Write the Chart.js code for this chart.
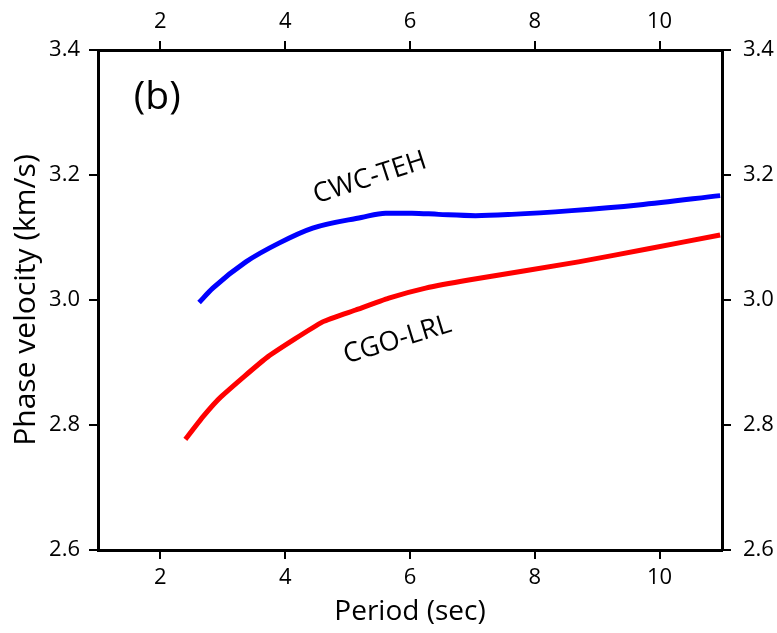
<!DOCTYPE html>
<html>
<head>
<meta charset="utf-8">
<script src="https://cdn.jsdelivr.net/npm/chart.js@4.4.0/dist/chart.umd.min.js"></script>
<style>
  html, body { margin: 0; padding: 0; background: #fff; }
  #wrap { width: 777px; height: 633px; }
</style>
</head>
<body>
<div id="wrap"><canvas id="chart" width="777" height="633"></canvas></div>
<script>
// dispersion curves: period (s) vs phase velocity (km/s)
const cwcPeriod = [2.62, 2.84, 3.37, 3.90, 4.44, 5.22, 5.61, 6.03, 6.46, 7.05, 7.63, 8.59, 9.66, 10.97];
const cwcVel    = [2.996, 3.019, 3.061, 3.091, 3.115, 3.132, 3.139, 3.139, 3.137, 3.135, 3.137, 3.143, 3.152, 3.167];

const cgoPeriod = [2.40, 2.68, 2.97, 3.72, 4.60, 5.13, 5.66, 6.25, 6.94, 8.70, 9.82, 10.97];
const cgoVel    = [2.777, 2.813, 2.845, 2.909, 2.965, 2.984, 3.003, 3.019, 3.032, 3.061, 3.082, 3.104];

const xTicks = [2, 4, 6, 8, 10];
const yTicks = [2.6, 2.8, 3.0, 3.2, 3.4];

// text labels placed in data coordinates
const notes = [
  { text: '(b)', x: 1.95, y: 3.323, size: 39, angle: 0 },
  { text: 'CWC-TEH', x: 5.36, y: 3.195, size: 27, angle: -18 },
  { text: 'CGO-LRL', x: 5.80, y: 2.936, size: 27, angle: -17 }
];

const FONT = '"Open Sans", "Noto Sans", sans-serif';

const toPts = (xs, ys) => xs.map((x, i) => ({ x, y: ys[i] }));

const notePlugin = {
  id: 'notes',
  afterDatasetsDraw(chart) {
    const { ctx, scales } = chart;
    ctx.save();
    ctx.fillStyle = '#000';
    ctx.textAlign = 'center';
    ctx.textBaseline = 'middle';
    notes.forEach(n => {
      const px = scales.x.getPixelForValue(n.x);
      const py = scales.y.getPixelForValue(n.y);
      ctx.save();
      ctx.translate(px, py);
      ctx.rotate(n.angle * Math.PI / 180);
      ctx.font = n.size + 'px ' + FONT;
      ctx.fillText(n.text, 0, 0);
      ctx.restore();
    });
    ctx.restore();
  }
};

function axis(position, extra) {
  const horiz = position === 'top' || position === 'bottom';
  return Object.assign({
    type: 'linear',
    position,
    min: horiz ? 1 : 2.6,
    max: horiz ? 11 : 3.4,
    afterBuildTicks: s => { s.ticks = (horiz ? xTicks : yTicks).map(v => ({ value: v })); },
    grid: { drawOnChartArea: false, drawTicks: true, tickLength: 9, color: '#000', lineWidth: 2 },
    border: { display: true, color: '#000', width: 3 },
    ticks: {
      color: '#000',
      font: { family: FONT, size: 22 },
      padding: horiz ? 6 : 9,
      maxRotation: 0,
      callback: v => horiz ? String(v) : v.toFixed(1)
    }
  }, extra);
}

new Chart(document.getElementById('chart'), {
  type: 'line',
  data: {
    datasets: [
      {
        label: 'CWC-TEH',
        data: toPts(cwcPeriod, cwcVel),
        borderColor: '#0000ff',
        borderWidth: 5,
        pointRadius: 0,
        cubicInterpolationMode: 'monotone',
        xAxisID: 'x', yAxisID: 'y'
      },
      {
        label: 'CGO-LRL',
        data: toPts(cgoPeriod, cgoVel),
        borderColor: '#ff0000',
        borderWidth: 5,
        pointRadius: 0,
        tension: 0.15,
        xAxisID: 'x', yAxisID: 'y'
      }
    ]
  },
  options: {
    responsive: false,
    animation: false,
    layout: { padding: 0 },
    plugins: { legend: { display: false }, tooltip: { enabled: false } },
    scales: {
      x: axis('bottom', {
        title: { display: true, text: 'Period (sec)', color: '#000', font: { family: FONT, size: 28 }, padding: { top: 0, bottom: 4 } },
        afterFit: s => { s.height = 83; }
      }),
      x2: axis('top', { afterFit: s => { s.height = 50; } }),
      y: axis('left', {
        title: { display: true, text: 'Phase velocity (km/s)', color: '#000', font: { family: FONT, size: 30 }, padding: { top: 8, bottom: 0 } },
        afterFit: s => { s.width = 98; }
      }),
      y2: axis('right', {
        afterFit: s => { s.width = 55; },
        ticks: { color: '#000', font: { family: FONT, size: 22 }, padding: 12, callback: v => v.toFixed(1) }
      })
    }
  },
  plugins: [notePlugin]
});
</script>
</body>
</html>
